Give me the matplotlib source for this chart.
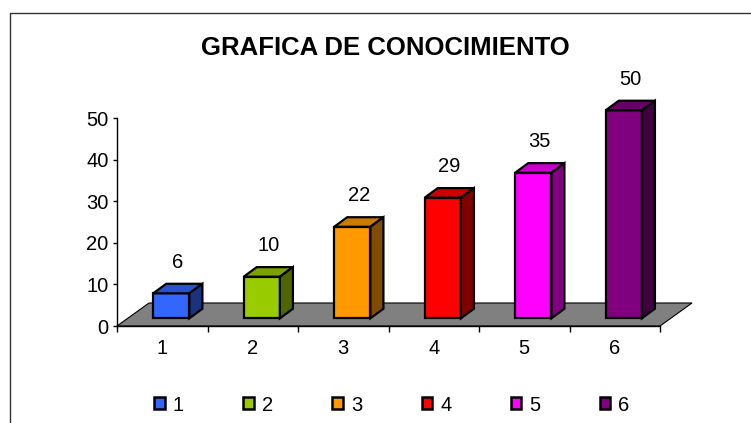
import numpy as np
import matplotlib
matplotlib.use("Agg")
import matplotlib.pyplot as plt
from matplotlib.patches import Polygon, Patch, Rectangle
from matplotlib.colors import to_rgb

plt.rcParams["font.family"] = ["Liberation Sans", "DejaVu Sans"]

titulo = "GRAFICA DE CONOCIMIENTO"
categorias = ["1", "2", "3", "4", "5", "6"]
valores = [6, 10, 22, 29, 35, 50]
colores = ["#3366FF", "#99CC00", "#FF9900", "#FF0000", "#FF00FF", "#800080"]
yticks = [0, 10, 20, 30, 40, 50]

# 3D look, in data units
floor_dx, floor_dy = 0.354, 5.53
bar_x0, bar_w, bar_base = 0.40, 0.40, 1.85
depth_dx, depth_dy = 0.144, 2.3
label_gap = 9.3


def shade(c, f):
    r, g, b = to_rgb(c)
    return (r * f, g * f, b * f)


fig = plt.figure(figsize=(7.51, 4.23), dpi=100)
ax = fig.add_axes([117 / 751, 97 / 423, 543 / 751, 208 / 423])
n = len(categorias)
ax.set_xlim(0, n)
ax.set_ylim(0, 50)

# floor
floor = Polygon(
    [(0, 0), (n, 0), (n + floor_dx, floor_dy), (floor_dx, floor_dy)],
    closed=True, facecolor="#808080", edgecolor="black", lw=0.8,
    clip_on=False, zorder=1,
)
ax.add_patch(floor)

for i, (v, c) in enumerate(zip(valores, colores)):
    x0 = i + bar_x0
    x1 = x0 + bar_w
    y0 = bar_base
    y1 = bar_base + v
    front = [(x0, y0), (x1, y0), (x1, y1), (x0, y1)]
    top = [(x0, y1), (x1, y1), (x1 + depth_dx, y1 + depth_dy), (x0 + depth_dx, y1 + depth_dy)]
    side = [(x1, y0), (x1 + depth_dx, y0 + depth_dy), (x1 + depth_dx, y1 + depth_dy), (x1, y1)]
    for pts, col in [(front, c), (top, shade(c, 0.8)), (side, shade(c, 0.5))]:
        ax.add_patch(Polygon(pts, closed=True, facecolor=col, edgecolor="black",
                             lw=1.6, joinstyle="miter", clip_on=False, zorder=3))
    ax.text(i + bar_x0 + bar_w / 2 + depth_dx / 2, v + label_gap, str(v),
            ha="center", va="center", fontsize=14.5)

for s in ["top", "right"]:
    ax.spines[s].set_visible(False)
ax.spines["left"].set_linewidth(1)
ax.spines["bottom"].set_linewidth(1)
ax.spines["bottom"].set_zorder(2)

ax.set_yticks(yticks)
ax.tick_params(axis="y", direction="out", length=3, width=1, pad=3, labelsize=14.5)
ax.set_xticks(np.arange(n + 1))
ax.set_xticklabels([])
ax.set_xticks(np.arange(n) + 0.5, minor=True)
ax.set_xticklabels(categorias, minor=True)
ax.tick_params(axis="x", which="major", direction="out", length=4, width=1)
ax.tick_params(axis="x", which="minor", length=0, pad=9, labelsize=14.5)

fig.text(385.5 / 751, 1 - 48 / 423, titulo, ha="center", va="center",
         fontsize=18.5, fontweight="bold")

handles = [Patch(facecolor=c, edgecolor="black", lw=1.8) for c in colores]
fig.legend(handles, categorias, ncol=n, frameon=False, loc="center",
           bbox_to_anchor=(392 / 751, 18 / 423), fontsize=14.5,
           handlelength=0.52, handleheight=0.52, handletextpad=0.4,
           columnspacing=2.95, borderaxespad=0)

# outer frame (cropped on right and bottom)
fig.patches.append(Rectangle((9.5 / 751, -0.5), 2, 0.5 + 1 - 12.5 / 423,
                             transform=fig.transFigure, fill=False,
                             edgecolor="#333333", lw=1))

fig.savefig("out.png", dpi=100)
